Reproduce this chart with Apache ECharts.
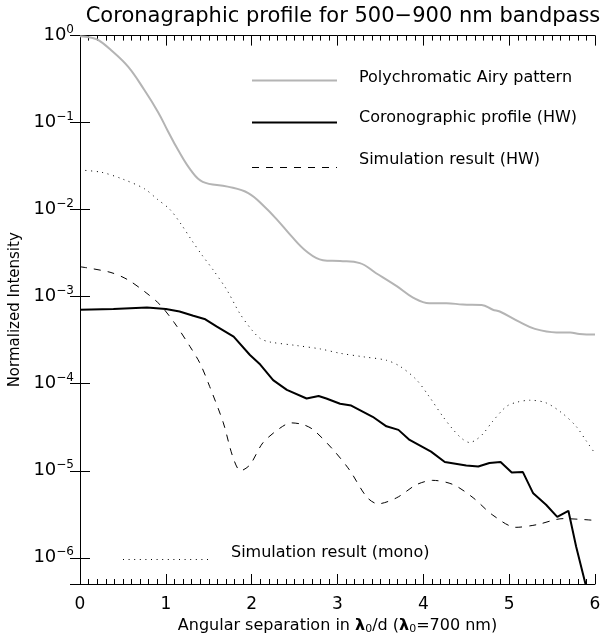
<!DOCTYPE html>
<html>
<head>
<meta charset="utf-8">
<script src="https://cdn.jsdelivr.net/npm/echarts@6/dist/echarts.min.js"></script>
<style>
  html, body { margin: 0; padding: 0; background: #ffffff; }
  #chart { width: 601px; height: 635px; }
</style>
</head>
<body>
<div id="chart"></div>
<script>
// Polychromatic Airy pattern (grey)
const airySep = [0, 0.12, 0.21, 0.36, 0.56, 0.75, 0.91, 1.02, 1.14, 1.29, 1.43, 1.72, 1.96, 2.15, 2.30, 2.45, 2.64, 2.83, 3.03, 3.26, 3.45, 3.69, 3.88, 4.07, 4.27, 4.46, 4.68, 4.81, 4.89, 5.12, 5.30, 5.55, 5.71, 5.82, 6.0];
const airyInt = [0.98, 0.95, 0.891, 0.684, 0.440, 0.237, 0.132, 0.0813, 0.0490, 0.0285, 0.0209, 0.0184, 0.0155, 0.0108, 0.00759, 0.00513, 0.00331, 0.00263, 0.00257, 0.00243, 0.00186, 0.00132, 0.000977, 0.000841, 0.000841, 0.000813, 0.000804, 0.000708, 0.000676, 0.000513, 0.000427, 0.000389, 0.000389, 0.000372, 0.000367];

// Coronographic profile, half-wave plate (solid black)
const hwSep = [0, 0.39, 0.78, 1.0, 1.16, 1.32, 1.46, 1.59, 1.79, 1.98, 2.10, 2.25, 2.41, 2.64, 2.78, 2.87, 3.03, 3.16, 3.41, 3.57, 3.71, 3.84, 4.09, 4.25, 4.50, 4.64, 4.77, 4.90, 5.03, 5.16, 5.28, 5.43, 5.56, 5.69, 5.78, 5.99];
const hwInt = [7.08e-4, 7.24e-4, 7.50e-4, 7.24e-4, 6.76e-4, 6.03e-4, 5.50e-4, 4.57e-4, 3.47e-4, 2.14e-4, 1.66e-4, 1.10e-4, 8.51e-5, 6.76e-5, 7.24e-5, 6.76e-5, 5.89e-5, 5.62e-5, 4.17e-5, 3.24e-5, 2.95e-5, 2.26e-5, 1.66e-5, 1.26e-5, 1.15e-5, 1.12e-5, 1.23e-5, 1.26e-5, 9.55e-6, 9.66e-6, 5.50e-6, 4.07e-6, 2.95e-6, 3.47e-6, 1.35e-6, 2.0e-7];

// Simulation result, half-wave plate (dashed)
const simHwSep = [0, 0.35, 0.55, 0.75, 0.93, 1.1, 1.28, 1.40, 1.51, 1.67, 1.78, 1.87, 1.98, 2.13, 2.33, 2.46, 2.60, 2.72, 2.95, 3.14, 3.34, 3.47, 3.69, 3.92, 4.11, 4.35, 4.58, 4.81, 5.08, 5.32, 5.63, 6.0];
const simHwInt = [2.21e-3, 1.91e-3, 1.58e-3, 1.15e-3, 8.13e-4, 5.01e-4, 2.69e-4, 1.70e-4, 9.33e-5, 3.55e-5, 1.45e-5, 1.00e-5, 1.17e-5, 2.09e-5, 3.09e-5, 3.55e-5, 3.39e-5, 2.95e-5, 1.74e-5, 1.02e-5, 5.01e-6, 4.17e-6, 4.90e-6, 6.92e-6, 7.76e-6, 6.92e-6, 4.90e-6, 3.09e-6, 2.24e-6, 2.40e-6, 2.82e-6, 2.69e-6];

// Simulation result, monochromatic (dotted)
const monoSep = [0, 0.25, 0.5, 0.75, 0.9, 1.05, 1.18, 1.30, 1.42, 1.55, 1.71, 1.86, 2.0, 2.1, 2.21, 2.52, 2.8, 3.03, 3.30, 3.57, 3.73, 3.92, 4.07, 4.23, 4.35, 4.45, 4.54, 4.62, 4.70, 4.81, 4.97, 5.1, 5.24, 5.43, 5.62, 5.78, 5.9, 6.0];
const monoInt = [0.0285, 0.0269, 0.0224, 0.0174, 0.0132, 0.0100, 0.00676, 0.00447, 0.00302, 0.00204, 0.00120, 0.000646, 0.000417, 0.000331, 0.000302, 0.000275, 0.000251, 0.000224, 0.000204, 0.000186, 0.000158, 0.000111, 7.08e-5, 4.17e-5, 2.95e-5, 2.34e-5, 2.11e-5, 2.29e-5, 2.69e-5, 3.72e-5, 5.50e-5, 6.17e-5, 6.46e-5, 6.03e-5, 4.57e-5, 3.24e-5, 2.19e-5, 1.58e-5];

const xTicks = [0, 1, 2, 3, 4, 5, 6];
const legendNames = ['Polychromatic Airy pattern', 'Coronographic profile (HW)', 'Simulation result (HW)', 'Simulation result (mono)'];

const FONT = 'DejaVu Sans';
const pairs = (xs, ys) => xs.map((x, i) => [x, ys[i]]);

// Only whole decades get a label, written as 10 with a raised exponent
function decadeLabel(v) {
  const e = Math.log10(v);
  const n = Math.round(e);
  if (Math.abs(e - n) > 1e-6) return '';
  const s = n < 0 ? '\u2212' + Math.abs(n) : String(n);
  return '{b|10}{s|' + s + '}';
}

const frame = { lineStyle: { color: '#000', width: 1 } };
const tick = { inside: true, length: 10, lineStyle: { color: '#000' } };
const minor = { show: true, splitNumber: 10, length: 5, lineStyle: { color: '#000' } };

const chart = echarts.init(document.getElementById('chart'), null, { renderer: 'canvas' });

chart.setOption({
  animation: false,
  backgroundColor: '#ffffff',
  title: {
    text: 'Coronagraphic profile for 500\u2212900 nm bandpass',
    left: 338, top: 1, textAlign: 'center',
    textStyle: { fontFamily: FONT, fontSize: 21, fontWeight: 'normal', color: '#000' }
  },
  grid: { left: 80, right: 6, top: 35.6, bottom: 51, containLabel: false, outerBoundsMode: 'none' },
  xAxis: [
    {
      type: 'value', position: 'bottom', min: 0, max: 6, interval: 1,
      axisLine: frame, axisTick: tick, minorTick: minor,
      splitLine: { show: false },
      axisLabel: { margin: 12, fontFamily: FONT, fontSize: 17, color: '#000',
        formatter: v => xTicks.includes(v) ? String(v) : '' },
      name: 'Angular separation in {g|\u03bb}{sub|0}/d ({g|\u03bb}{sub|0}=700 nm)',
      nameLocation: 'middle', nameGap: 31,
      nameTextStyle: {
        fontFamily: FONT, fontSize: 16, color: '#000',
        rich: {
          g: { fontFamily: FONT, fontSize: 16, fontWeight: 'bold', color: '#000' },
          sub: { fontFamily: FONT, fontSize: 11, color: '#000', padding: [7, 0, 0, 0] }
        }
      }
    },
    {
      type: 'value', position: 'top', min: 0, max: 6, interval: 1,
      axisLine: frame, axisTick: tick, minorTick: minor,
      splitLine: { show: false },
      axisLabel: { show: false }
    }
  ],
  yAxis: [
    {
      type: 'log', logBase: 10, position: 'left', min: 5e-7, max: 1,
      axisLine: frame, axisTick: tick,
      splitLine: { show: false },
      axisLabel: {
        margin: 6, color: '#000', fontFamily: FONT,
        formatter: decadeLabel,
        rich: {
          b: { fontFamily: FONT, fontSize: 18, color: '#000' },
          s: { fontFamily: FONT, fontSize: 12, color: '#000', padding: [0, 0, 11, 0] }
        }
      },
      name: 'Normalized Intensity', nameLocation: 'middle', nameGap: 53, nameRotate: 90,
      nameTextStyle: { fontFamily: FONT, fontSize: 15, color: '#000' }
    },
    {
      type: 'log', logBase: 10, position: 'right', min: 5e-7, max: 1,
      axisLine: frame, axisTick: tick,
      splitLine: { show: false },
      axisLabel: { show: false }
    }
  ],
  series: [
    {
      name: legendNames[0], type: 'line', xAxisIndex: 0, yAxisIndex: 0,
      data: pairs(airySep, airyInt), showSymbol: false, smooth: 0.4,
      lineStyle: { color: '#b4b4b4', width: 2 }
    },
    {
      name: legendNames[3], type: 'line', xAxisIndex: 0, yAxisIndex: 0,
      data: pairs(monoSep, monoInt), showSymbol: false, smooth: 0.3,
      lineStyle: { color: '#000', width: 1, type: [1, 4.6] }
    },
    {
      name: legendNames[2], type: 'line', xAxisIndex: 0, yAxisIndex: 0,
      data: pairs(simHwSep, simHwInt), showSymbol: false, smooth: 0.3,
      lineStyle: { color: '#000', width: 1, type: [7, 7] }
    },
    {
      name: legendNames[1], type: 'line', xAxisIndex: 0, yAxisIndex: 0,
      data: pairs(hwSep, hwInt), showSymbol: false, smooth: false, clip: true,
      lineStyle: { color: '#000', width: 2 }
    }
  ],
  graphic: [
    { type: 'line', shape: { x1: 252, y1: 80.5, x2: 337, y2: 80.5 }, style: { stroke: '#b4b4b4', lineWidth: 2 } },
    { type: 'text', x: 359, y: 78, style: { text: legendNames[0], fontFamily: FONT, fontSize: 16, fill: '#000', verticalAlign: 'middle' } },
    { type: 'line', shape: { x1: 252, y1: 122.5, x2: 337, y2: 122.5 }, style: { stroke: '#000', lineWidth: 2 } },
    { type: 'text', x: 359, y: 118, style: { text: legendNames[1], fontFamily: FONT, fontSize: 16, fill: '#000', verticalAlign: 'middle' } },
    { type: 'line', shape: { x1: 252, y1: 167.5, x2: 337, y2: 167.5 }, style: { stroke: '#000', lineWidth: 1, lineDash: [7, 7] } },
    { type: 'text', x: 359, y: 160, style: { text: legendNames[2], fontFamily: FONT, fontSize: 16, fill: '#000', verticalAlign: 'middle' } },
    { type: 'line', shape: { x1: 123, y1: 559.5, x2: 208, y2: 559.5 }, style: { stroke: '#000', lineWidth: 1, lineDash: [1, 4.6] } },
    { type: 'text', x: 231, y: 553, style: { text: legendNames[3], fontFamily: FONT, fontSize: 16, fill: '#000', verticalAlign: 'middle' } }
  ]
});
</script>
</body>
</html>
